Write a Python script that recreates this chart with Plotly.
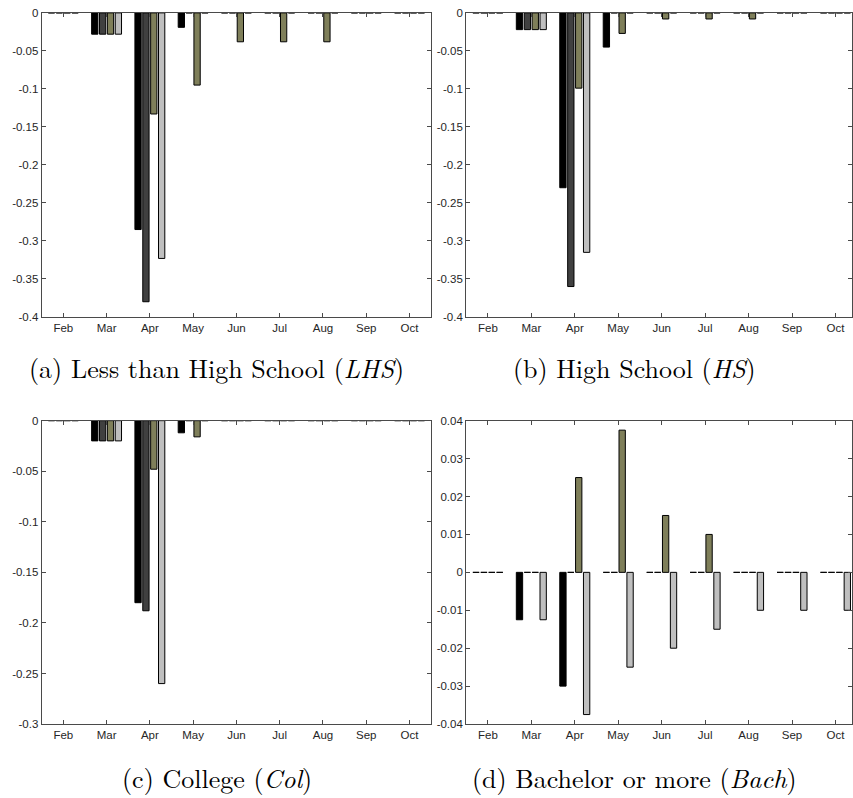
import plotly.graph_objects as go

months = ["Feb", "Mar", "Apr", "May", "Jun", "Jul", "Aug", "Sep", "Oct"]
month_pos = [1, 2, 3, 4, 5, 6, 7, 8, 9]

# Panel (a) Less than High School
lhs_s1 = [0, -0.028, -0.285, -0.019, 0, 0, 0, 0, 0]
lhs_s2 = [0, -0.028, -0.380, 0, 0, 0, 0, 0, 0]
lhs_s3 = [0, -0.028, -0.133, -0.095, -0.038, -0.038, -0.038, 0, 0]
lhs_s4 = [0, -0.028, -0.323, 0, 0, 0, 0, 0, 0]

# Panel (b) High School
hs_s1 = [0, -0.022, -0.230, -0.045, 0, 0, 0, 0, 0]
hs_s2 = [0, -0.022, -0.360, 0, 0, 0, 0, 0, 0]
hs_s3 = [0, -0.022, -0.099, -0.027, -0.008, -0.008, -0.008, 0, 0]
hs_s4 = [0, -0.022, -0.315, 0, 0, 0, 0, 0, 0]

# Panel (c) College
col_s1 = [0, -0.020, -0.180, -0.012, 0, 0, 0, 0, 0]
col_s2 = [0, -0.020, -0.188, 0, 0, 0, 0, 0, 0]
col_s3 = [0, -0.020, -0.048, -0.016, 0, 0, 0, 0, 0]
col_s4 = [0, -0.020, -0.260, 0, 0, 0, 0, 0, 0]

# Panel (d) Bachelor or more
bach_s1 = [0, -0.0125, -0.030, 0, 0, 0, 0, 0, 0]
bach_s2 = [0, 0, 0, 0, 0, 0, 0, 0, 0]
bach_s3 = [0, 0, 0.025, 0.0375, 0.015, 0.010, 0, 0, 0]
bach_s4 = [0, -0.0125, -0.0375, -0.025, -0.020, -0.015, -0.010, -0.010, -0.010]

yt_ab = [-0.4, -0.35, -0.3, -0.25, -0.2, -0.15, -0.1, -0.05, 0]
yt_ab_text = ["-0.4", "-0.35", "-0.3", "-0.25", "-0.2", "-0.15", "-0.1", "-0.05", "0"]
yt_c = [-0.3, -0.25, -0.2, -0.15, -0.1, -0.05, 0]
yt_c_text = ["-0.3", "-0.25", "-0.2", "-0.15", "-0.1", "-0.05", "0"]
yt_d = [-0.04, -0.03, -0.02, -0.01, 0, 0.01, 0.02, 0.03, 0.04]
yt_d_text = ["-0.04", "-0.03", "-0.02", "-0.01", "0", "0.01", "0.02", "0.03", "0.04"]

captions = [
    "(a) Less than High School (<i>LHS</i>)",
    "(b) High School (<i>HS</i>)",
    "(c) College (<i>Col</i>)",
    "(d) Bachelor or more (<i>Bach</i>)",
]

colors = ["#000000", "#404040", "#7f7f5a", "#bfbfbf"]

panels = [
    ([lhs_s1, lhs_s2, lhs_s3, lhs_s4], "x", "y"),
    ([hs_s1, hs_s2, hs_s3, hs_s4], "x2", "y2"),
    ([col_s1, col_s2, col_s3, col_s4], "x3", "y3"),
    ([bach_s1, bach_s2, bach_s3, bach_s4], "x4", "y4"),
]

W, H = 853, 798
fig = go.Figure()
for series, xa, ya in panels:
    for k, vals in enumerate(series):
        fig.add_trace(go.Bar(
            x=month_pos, y=vals, xaxis=xa, yaxis=ya,
            marker=dict(color=colors[k], line=dict(color="#000000", width=1)),
            offsetgroup=str(k), showlegend=False,
        ))

axis_col = "#4a4a4a"
tick_font = dict(family="Liberation Sans, Arial, sans-serif", size=11.5, color="#262626")

def xdom(l, r):
    return [l / W, min(r / W, 1.0)]

def ydom(top, bot):
    return [1 - bot / H, 1 - top / H]

common_x = dict(
    tickvals=month_pos, ticktext=months, ticks="inside", ticklen=4,
    tickcolor=axis_col, showline=True, linecolor=axis_col, linewidth=1,
    mirror="ticks", showgrid=False, zeroline=False, tickfont=tick_font,
)
common_y = dict(
    ticks="inside", ticklen=4, tickcolor=axis_col, showline=True,
    linecolor=axis_col, linewidth=1, mirror="ticks", showgrid=False,
    zeroline=False, tickfont=tick_font,
)

L1, R1 = 41.7, 431.7
L2, R2 = 466.7, 853.0
T1, B1 = 7.0, 315.7
T2, B2 = 421.0, 729.0
r_right = 0.5 + (R2 - L2) / 43.5

fig.update_layout(
    width=W, height=H,
    margin=dict(l=0, r=0, t=0, b=0),
    paper_bgcolor="white", plot_bgcolor="white",
    barmode="group", bargap=0.273, bargroupgap=0.2,
    xaxis=dict(domain=xdom(L1, R1), range=[0.5, 9.5], anchor="y", **common_x),
    yaxis=dict(domain=ydom(T1, B1), range=[-0.4, 0], tickvals=yt_ab, ticktext=yt_ab_text, anchor="x", **common_y),
    xaxis2=dict(domain=xdom(L2, R2), range=[0.5, r_right], anchor="y2", **common_x),
    yaxis2=dict(domain=ydom(T1, B1), range=[-0.4, 0], tickvals=yt_ab, ticktext=yt_ab_text, anchor="x2", **common_y),
    xaxis3=dict(domain=xdom(L1, R1), range=[0.5, 9.5], anchor="y3", **common_x),
    yaxis3=dict(domain=ydom(T2, B2), range=[-0.3, 0], tickvals=yt_c, ticktext=yt_c_text, anchor="x3", **common_y),
    xaxis4=dict(domain=xdom(L2, R2), range=[0.5, r_right], anchor="y4", **common_x),
    yaxis4=dict(domain=ydom(T2, B2), range=[-0.04, 0.04], tickvals=yt_d, ticktext=yt_d_text, anchor="x4", **common_y),
)

cap_font = dict(family="Latin Modern Roman, CMU Serif, Liberation Serif, serif", size=26, color="#000000")
cap_pos = [(217, 367), (635, 367), (217, 783), (635, 783)]
for text, (cx, cy) in zip(captions, cap_pos):
    fig.add_annotation(text=text, xref="paper", yref="paper", x=cx / W, y=1 - cy / H,
                       xanchor="center", yanchor="middle", showarrow=False, font=cap_font)

fig.write_html(
    "out.html",
    config={"displayModeBar": False},
    post_script="document.body.style.margin='0';document.body.style.overflow='hidden';",
)
